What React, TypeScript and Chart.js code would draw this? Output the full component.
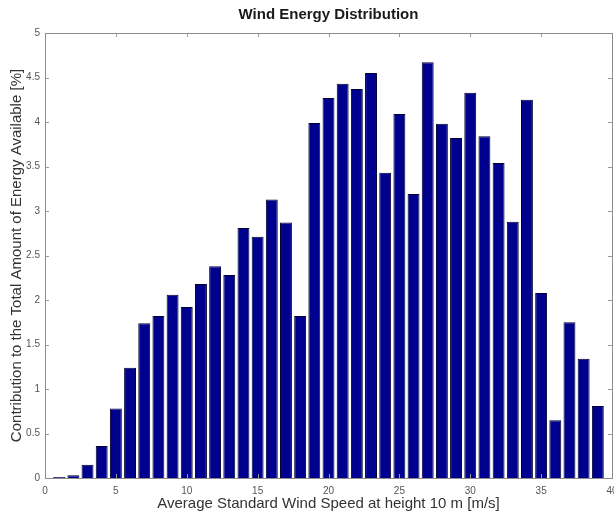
import React, { useEffect, useRef } from "react";
import { Chart, registerables } from "chart.js";

Chart.register(...registerables);

// Wind speed bins (m/s) and share of total available energy (%)
const speeds: number[] = [
  1, 2, 3, 4, 5, 6, 7, 8, 9, 10,
  11, 12, 13, 14, 15, 16, 17, 18, 19, 20,
  21, 22, 23, 24, 25, 26, 27, 28, 29, 30,
  31, 32, 33, 34, 35, 36, 37, 38, 39,
];
const energyShare: number[] = [
  0.01, 0.03, 0.15, 0.36, 0.78, 1.24, 1.74, 1.82, 2.06, 1.92,
  2.18, 2.38, 2.28, 2.81, 2.71, 3.13, 2.87, 1.82, 3.99, 4.27,
  4.43, 4.37, 4.55, 3.43, 4.09, 3.19, 4.67, 3.98, 3.82, 4.33,
  3.84, 3.54, 2.88, 4.25, 2.08, 0.65, 1.75, 1.34, 0.81,
];

const titleText = "Wind Energy Distribution";
const xAxisTitle = "Average Standard Wind Speed at height 10 m [m/s]";
const yAxisTitle = "Contribution to the Total Amount of Energy Available [%]";

const FONT = "'Liberation Sans', Arial, Helvetica, sans-serif";

// Axes box with short inward tick marks on all four sides
const boxTicks = {
  id: "boxTicks",
  afterDraw(chart: any) {
    const { ctx, chartArea: a, scales } = chart;
    const len = 4;
    ctx.save();
    ctx.strokeStyle = "#9a9a9a";
    ctx.lineWidth = 1;
    ctx.beginPath();
    for (const t of scales.x.ticks) {
      const px = Math.round(scales.x.getPixelForValue(t.value)) + 0.5;
      ctx.moveTo(px, a.bottom);
      ctx.lineTo(px, a.bottom - len);
      ctx.moveTo(px, a.top);
      ctx.lineTo(px, a.top + len);
    }
    for (const t of scales.y.ticks) {
      const py = Math.round(scales.y.getPixelForValue(t.value)) + 0.5;
      ctx.moveTo(a.left, py);
      ctx.lineTo(a.left + len, py);
      ctx.moveTo(a.right, py);
      ctx.lineTo(a.right - len, py);
    }
    ctx.stroke();
    ctx.strokeStyle = "#8c8c8c";
    ctx.strokeRect(
      Math.round(a.left) + 0.5,
      Math.round(a.top) + 0.5,
      Math.round(a.right - a.left),
      Math.round(a.bottom - a.top)
    );
    ctx.restore();
  },
};

export default function App() {
  const ref = useRef<HTMLCanvasElement | null>(null);

  useEffect(() => {
    if (!ref.current) return;
    const chart = new Chart(ref.current, {
      type: "bar",
      data: {
        datasets: [
          {
            data: speeds.map((s, i) => ({ x: s, y: energyShare[i] })),
            backgroundColor: "#00008f",
            borderColor: "#000030",
            borderWidth: 1,
            barPercentage: 0.84,
            categoryPercentage: 1,
          },
        ],
      },
      options: {
        responsive: false,
        animation: false,
        layout: { padding: { left: 0, right: 42, top: 0, bottom: 0 } },
        plugins: {
          legend: { display: false },
          tooltip: { enabled: false },
          title: {
            display: true,
            fullSize: false,
            text: titleText,
            color: "#1a1a1a",
            font: { family: FONT, size: 15, weight: "bold" },
            padding: { top: 6, bottom: 9 },
          },
        },
        scales: {
          x: {
            type: "linear",
            min: 0,
            max: 40,
            offset: false,
            grid: { display: false, drawTicks: false },
            border: { display: false },
            ticks: {
              stepSize: 5,
              padding: 7,
              color: "#555",
              font: { family: FONT, size: 10 },
              maxRotation: 0,
            },
            title: {
              display: true,
              text: xAxisTitle,
              color: "#333",
              font: { family: FONT, size: 15 },
              padding: { top: 0, bottom: 3 },
            },
            afterFit: (s: any) => {
              s.height = 38;
            },
          },
          y: {
            min: 0,
            max: 5,
            grid: { display: false, drawTicks: false },
            border: { display: false },
            ticks: {
              stepSize: 0.5,
              padding: 5,
              color: "#555",
              font: { family: FONT, size: 10 },
              callback: (v: any) => String(Number(v)),
            },
            title: {
              display: true,
              text: yAxisTitle,
              color: "#333",
              font: { family: FONT, size: 15 },
              padding: { top: 8, bottom: 0 },
            },
            afterFit: (s: any) => {
              s.width = 45;
            },
          },
        },
      },
      plugins: [boxTicks],
    });
    return () => chart.destroy();
  }, []);

  return (
    <div
      style={{
        position: "fixed",
        left: 0,
        top: 0,
        width: 614,
        height: 516,
        overflow: "hidden",
        background: "#fff",
      }}
    >
      <canvas ref={ref} width={654} height={516} style={{ display: "block" }} />
    </div>
  );
}
